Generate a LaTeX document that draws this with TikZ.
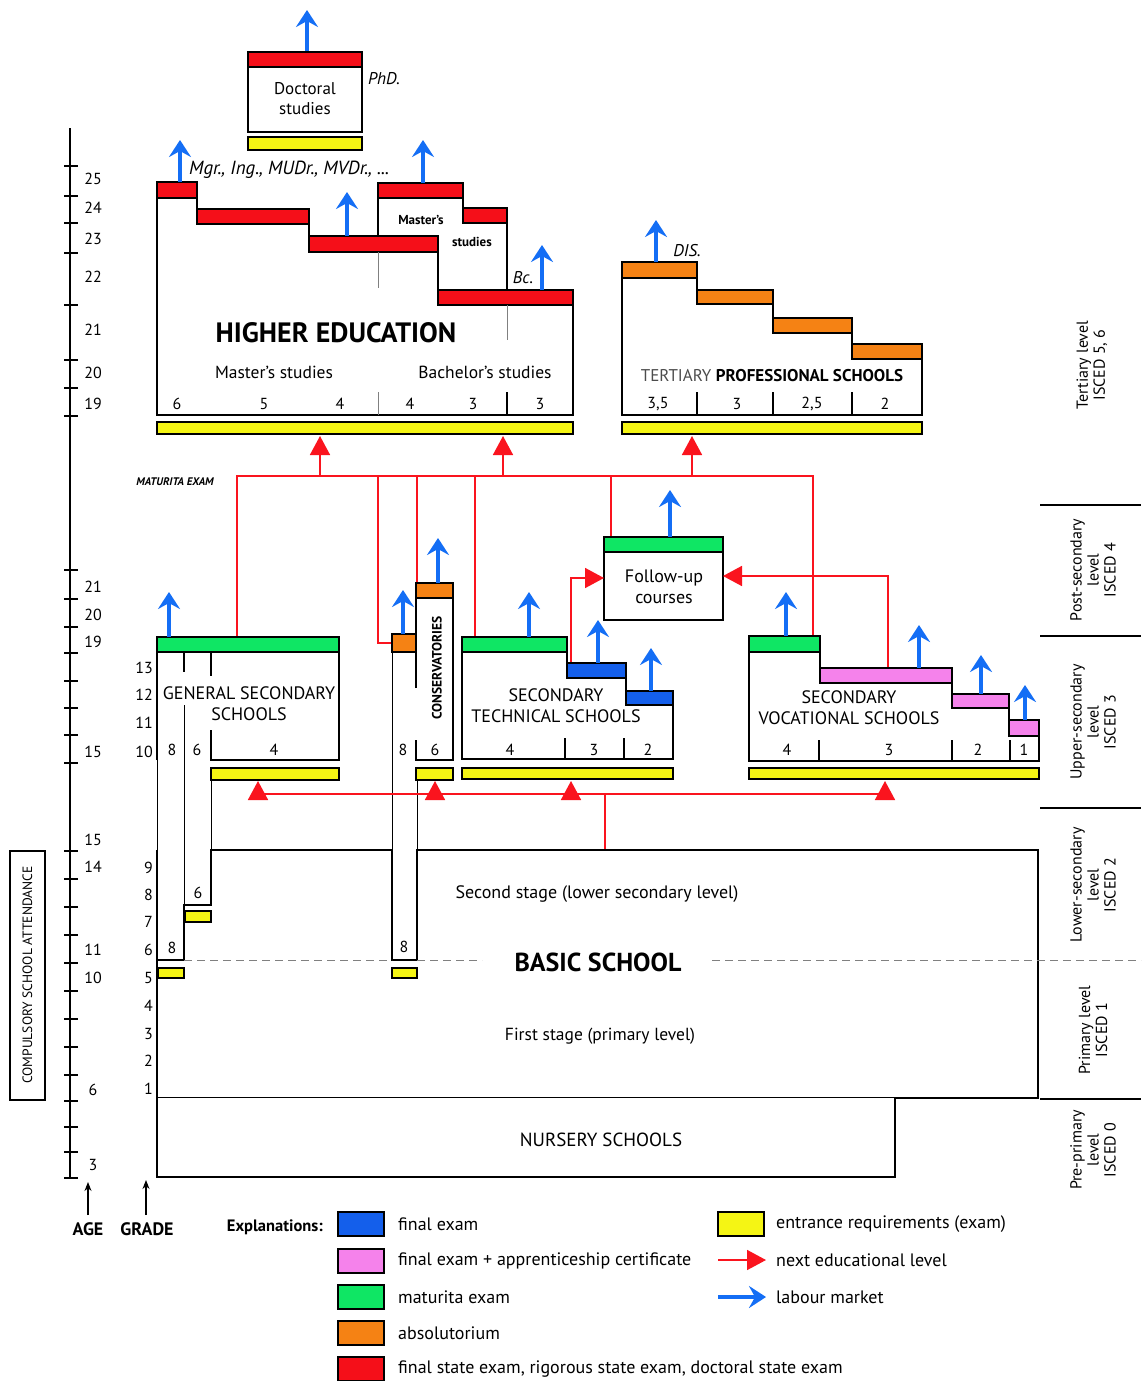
\documentclass[tikz,border=0pt]{standalone}
\usepackage{fontspec}
\setmainfont{PT Sans}
\usetikzlibrary{arrows.meta}

\definecolor{finalblue}{RGB}{20,95,235}
\definecolor{apprpink}{RGB}{245,130,235}
\definecolor{matgreen}{RGB}{15,230,100}
\definecolor{absorange}{RGB}{245,130,20}
\definecolor{statered}{RGB}{245,15,25}
\definecolor{entryellow}{RGB}{245,245,20}
\definecolor{nextred}{RGB}{250,20,30}
\definecolor{labourblue}{RGB}{20,110,245}

\tikzset{
  school/.style={draw, line width=2.6pt, fill=white, line join=miter},
  exambar/.style={draw, line width=2pt, fill=#1},
  wall/.style={line width=2pt},
  thinwall/.style={line width=1pt},
  divider/.style={line width=1.6pt},
  graydiv/.style={gray, line width=1pt},
  labour/.style={labourblue, line width=4pt, -{Stealth[length=17pt,width=22pt,inset=6pt]}},
  nextlevel/.style={nextred, line width=1.6pt},
  nexthead/.style={nextred, line width=1.6pt, -{Triangle[length=19pt,width=20pt]}},
  lbl/.style={inner sep=0pt, font=\fontsize{15}{15}\selectfont},
  yearnum/.style={lbl, font=\fontsize{16}{16}\selectfont},
  gradenum/.style={lbl, anchor=east},
  schoolname/.style={inner sep=0pt, align=center, font=\fontsize{18}{21}\selectfont},
  degree/.style={inner sep=0pt, font=\itshape\fontsize{17}{17}\selectfont},
  isced/.style={inner sep=0pt, align=center, rotate=90, font=\fontsize{16}{17}\selectfont},
  legendtext/.style={inner sep=0pt, anchor=west, font=\fontsize{18}{18}\selectfont},
}

\begin{document}
\begin{tikzpicture}[x=1pt, y=-1pt]
\useasboundingbox[fill=white] (0,0) rectangle (1141,1381);

% age axis
\draw[line width=2.5pt] (70,128) -- (70,1178);
\foreach \y in {166,196,223,253,305,360,388,416,570,599,627,653,681,708,735,763,851,879,907,935,963,991,1019,1047,1075,1101,1127,1152,1178}
  \draw[line width=2.5pt] (64,\y) -- (78,\y);
\foreach \a/\y [count=\i] in {25/179,24/208,23/239,22/277,21/330,20/373,19/404,21/587,20/615,19/642,15/752,15/840,14/867,11/950,10/978,6/1090,3/1165}
  \node[yearnum] (age\i) at (93,\y) {\a};
\foreach \g/\y [count=\i] in {13/668,12/695,11/723,10/752,9/868,8/895,7/922,6/950,5/978,4/1006,3/1034,2/1061,1/1089}
  \node[gradenum, font=\fontsize{16}{16}\selectfont] (grade\i) at (153,\y) {\g};
\coordinate (ageTail) at (88,1215);
\coordinate (ageTip) at (88,1182);
\coordinate (gradeTail) at (146,1215);
\coordinate (gradeTip) at (146,1180);
\draw[line width=1.2pt, -{Stealth[length=9pt,width=7pt]}] (ageTail) -- (ageTip);
\draw[line width=1.2pt, -{Stealth[length=9pt,width=7pt]}] (gradeTail) -- (gradeTip);
\node[lbl, font=\bfseries\fontsize{18}{18}\selectfont] (age) at (88,1229) {AGE};
\node[lbl, font=\bfseries\fontsize{18}{18}\selectfont] (grade) at (147,1229) {GRADE};

% compulsory attendance
\draw[line width=2pt] (10,851) rectangle (45,1100);
\node[lbl, rotate=90, font=\fontsize{13.5}{13.5}\selectfont] (compulsory) at (27.5,975) {COMPULSORY SCHOOL ATTENDANCE};

% ISCED column
\foreach \y in {505,636,808,1099}
  \draw[line width=1.5pt] (1040,\y) -- (1141,\y);
\node[isced] (isced56) at (1092,365) {Tertiary level\\ISCED 5, 6};
\node[isced] (isced4) at (1093,570) {Post-secondary\\level\\ISCED 4};
\node[isced] (isced3) at (1093,722) {Upper-secondary\\level\\ISCED 3};
\node[isced] (isced2) at (1093,885) {Lower-secondary\\level\\ISCED 2};
\node[isced] (isced1) at (1093,1030) {Primary level\\ISCED 1};
\node[isced] (isced0) at (1093,1150) {Pre-primary\\level\\ISCED 0};

% doctoral studies
\draw[labour] (307,52) -- (307,10);
\draw[school] (248,67) rectangle (362,132);
\draw[exambar=statered] (248,52) rectangle (362,67);
\draw[exambar=entryellow] (248,137) rectangle (362,150);
\node[schoolname, font=\fontsize{17}{20}\selectfont] (doctoral) at (305,99) {Doctoral\\studies};
\node[degree] (phd) at (384,79) {PhD.};

% higher education
\draw[school] (157,415) -- (157,198) -- (197,198) -- (197,224) -- (309,224) -- (309,252) -- (438,252) -- (438,305) -- (573,305) -- (573,415) -- cycle;
\fill[white] (378,198) rectangle (507,290);
\draw[school] (378,236) -- (378,198) -- (463,198) -- (463,223) -- (507,223) -- (507,290);
\draw[wall] (438,252) -- (438,290);
\draw[exambar=statered] (157,182) rectangle (197,198);
\draw[exambar=statered] (197,209) rectangle (309,224);
\draw[exambar=statered] (309,236) rectangle (438,252);
\draw[exambar=statered] (378,183) rectangle (463,198);
\draw[exambar=statered] (463,208) rectangle (507,223);
\draw[exambar=statered] (438,290) rectangle (573,305);
\draw[graydiv] (378,252) -- (378,288);
\draw[graydiv] (378,392) -- (378,415);
\draw[graydiv] (507,305) -- (507,340);
\draw[divider] (507,392) -- (507,415);
\draw[labour] (180,182) -- (180,140);
\draw[labour] (347,236) -- (347,192);
\draw[labour] (423,183) -- (423,140);
\draw[labour] (542,290) -- (542,245);
\node[degree, anchor=west, font=\itshape\fontsize{19}{19}\selectfont] (mgr) at (189,170) {Mgr., Ing., MUDr., MVDr., ...};
\node[degree] (bc) at (523,278) {Bc.};
\node[lbl, font=\bfseries\fontsize{13}{13}\selectfont] (masters) at (421,220) {Master's};
\node[lbl, font=\bfseries\fontsize{13}{13}\selectfont] (mstudies) at (472,242) {studies};
\node[lbl, font=\bfseries\fontsize{28}{28}\selectfont] (highered) at (336,333) {HIGHER EDUCATION};
\node[lbl, font=\fontsize{17.5}{17.5}\selectfont] (masterstudies) at (274,372) {Master's studies};
\node[lbl, font=\fontsize{17.5}{17.5}\selectfont] (bachelorstudies) at (485,372) {Bachelor's studies};
\foreach \n/\x [count=\i] in {6/177,5/264,4/340,4/410,3/473,3/540}
  \node[yearnum] (heyear\i) at (\x,404) {\n};
\draw[exambar=entryellow] (157,422) rectangle (573,434);

% tertiary professional schools
\draw[school] (622,278) -- (697,278) -- (697,304) -- (773,304) -- (773,333) -- (852,333) -- (852,359) -- (922,359) -- (922,415) -- (622,415) -- cycle;
\draw[exambar=absorange] (622,262) rectangle (697,278);
\draw[exambar=absorange] (697,290) rectangle (773,304);
\draw[exambar=absorange] (773,318) rectangle (852,333);
\draw[exambar=absorange] (852,344) rectangle (922,359);
\foreach \x in {697,773,852}
  \draw[divider] (\x,392) -- (\x,415);
\foreach \n/\x [count=\i] in {{3,5}/658,3/737,{2,5}/812,2/885}
  \node[yearnum] (tpyear\i) at (\x,404) {\n};
\node[lbl, font=\fontsize{17}{17}\selectfont] (tertiary) at (772,376) {\textcolor{black!70}{TERTIARY} \textbf{PROFESSIONAL SCHOOLS}};
\draw[labour] (656,262) -- (656,220);
\node[degree] (dis) at (687,251) {DIS.};
\draw[exambar=entryellow] (622,422) rectangle (922,434);

% maturita exam connections to tertiary level
\node[lbl, font=\bfseries\itshape\fontsize{11}{11}\selectfont] (maturita) at (175,482) {MATURITA EXAM};
\coordinate (gsTop) at (237,637);
\coordinate (vsTop) at (813,636);
\coordinate (conTop) at (417,583);
\coordinate (conSmall) at (392,643);
\coordinate (tsTop) at (475,637);
\coordinate (fuTop) at (611,537);
\draw[nextlevel] (gsTop) |- (vsTop |- 0,476) -- (vsTop);
\draw[nextlevel] (conSmall) -| (378,476);
\draw[nextlevel] (conTop) -- (conTop |- 0,476);
\draw[nextlevel] (tsTop) -- (tsTop |- 0,476);
\draw[nextlevel] (fuTop) -- (fuTop |- 0,476);
\foreach \x in {320,503,692}
  \draw[nexthead] (\x,476) -- (\x,436);

% follow-up courses
\draw[school] (604,552) rectangle (723,620);
\draw[exambar=matgreen] (604,537) rectangle (723,552);
\node[schoolname] (followup) at (664,587) {Follow-up\\courses};
\draw[labour] (670,537) -- (670,490);
\coordinate (tsStep) at (571,663);
\coordinate (vsStep) at (888,668);
\draw[nexthead] (tsStep) |- (604,578);
\draw[nexthead] (vsStep) |- (723,576);

% general secondary schools
\fill[white] (157,652) rectangle (339,760);
\draw[line width=2.6pt] (157,760) -- (157,652) -- (339,652) -- (339,760) -- (211,760) -- (211,730);
\draw[exambar=matgreen] (157,637) rectangle (339,652);
\draw[wall] (184,652) -- (184,672);
\draw[wall] (211,652) -- (211,676);
\draw[thinwall] (157,760) -- (157,850);
\draw[thinwall] (184,705) -- (184,905);
\draw[thinwall] (211,780) -- (211,850);
\node[schoolname] (general) at (249,704) {GENERAL SECONDARY\\SCHOOLS};
\node[yearnum] (gsyear1) at (172,750) {8};
\node[yearnum] (gsyear2) at (197,750) {6};
\node[yearnum] (gsyear3) at (274,750) {4};
\draw[exambar=entryellow] (211,768) rectangle (339,780);
\draw[labour] (169,637) -- (169,592);

% conservatories
\fill[white] (416,598) rectangle (453,760);
\draw[line width=2.6pt] (416,688) -- (416,598) -- (453,598) -- (453,760) -- (416,760) -- (416,740);
\draw[exambar=absorange] (416,583) rectangle (453,598);
\draw[exambar=absorange] (392,634) rectangle (416,652);
\draw[thinwall] (392,652) -- (392,850);
\draw[thinwall] (417,780) -- (417,850);
\node[lbl, rotate=90, font=\bfseries\fontsize{13.5}{13.5}\selectfont] (conservatories) at (437,668) {CONSERVATORIES};
\node[yearnum] (conyear1) at (403,750) {8};
\node[yearnum] (conyear2) at (435,750) {6};
\draw[exambar=entryellow] (416,768) rectangle (453,780);
\draw[labour] (403,634) -- (403,590);
\draw[labour] (438,583) -- (438,538);

% secondary technical schools
\draw[school] (462,652) -- (567,652) -- (567,678) -- (626,678) -- (626,705) -- (673,705) -- (673,759) -- (462,759) -- cycle;
\draw[exambar=matgreen] (462,637) rectangle (567,652);
\draw[exambar=finalblue] (567,663) rectangle (626,678);
\draw[exambar=finalblue] (626,691) rectangle (673,705);
\draw[divider] (565,738) -- (565,759);
\draw[divider] (624,738) -- (624,759);
\node[schoolname] (technical) at (556,706) {SECONDARY\\TECHNICAL SCHOOLS};
\foreach \n/\x [count=\i] in {4/510,3/594,2/648}
  \node[yearnum] (tsyear\i) at (\x,750) {\n};
\draw[exambar=entryellow] (462,768) rectangle (673,779);
\draw[labour] (529,637) -- (529,592);
\draw[labour] (598,663) -- (598,620);
\draw[labour] (651,691) -- (651,648);

% secondary vocational schools
\draw[school] (749,652) -- (820,652) -- (820,683) -- (952,683) -- (952,708) -- (1009,708) -- (1009,736) -- (1039,736) -- (1039,761) -- (749,761) -- cycle;
\draw[exambar=matgreen] (749,636) rectangle (820,652);
\draw[exambar=apprpink] (820,668) rectangle (952,683);
\draw[exambar=apprpink] (952,694) rectangle (1009,708);
\draw[exambar=apprpink] (1009,720) rectangle (1039,736);
\foreach \x in {819,952,1010}
  \draw[divider] (\x,740) -- (\x,761);
\node[schoolname] (vocational) at (849,708) {SECONDARY\\VOCATIONAL SCHOOLS};
\foreach \n/\x [count=\i] in {4/787,3/889,2/978,1/1024}
  \node[yearnum] (vsyear\i) at (\x,750) {\n};
\draw[exambar=entryellow] (749,768) rectangle (1039,779);
\draw[labour] (786,636) -- (786,592);
\draw[labour] (919,668) -- (919,625);
\draw[labour] (981,694) -- (981,655);
\draw[labour] (1025,720) -- (1025,685);

% basic school to upper secondary
\coordinate (bsTop) at (605,850);
\draw[nextlevel] (bsTop) -- (605,794);
\draw[nextlevel] (258,794) -- (885,794);
\foreach \x in {258,435,571,885}
  \draw[nexthead] (\x,794) -- (\x,781);

% basic school
\draw[school] (157,850) -- (157,1098) -- (1038,1098) -- (1038,850) -- (417,850) -- (417,960) -- (392,960) -- (392,850) -- (211,850) -- (211,905) -- (184,905) -- (184,960) -- (157,960);
\draw[gray, line width=1pt, dash pattern=on 8pt off 5pt] (184,960) -- (392,960);
\draw[gray, line width=1pt, dash pattern=on 8pt off 5pt] (417,960) -- (482,960);
\draw[gray, line width=1pt, dash pattern=on 8pt off 5pt] (712,960) -- (1141,960);
\node[yearnum] (bsyear1) at (172,948) {8};
\node[yearnum] (bsyear2) at (198,893) {6};
\node[yearnum] (bsyear3) at (404,947) {8};
\draw[exambar=entryellow] (158,968) rectangle (184,978);
\draw[exambar=entryellow] (185,911) rectangle (211,922);
\draw[exambar=entryellow] (392,968) rectangle (417,978);
\node[lbl, font=\fontsize{18}{18}\selectfont] (secondstage) at (597,894) {Second stage (lower secondary level)};
\node[lbl, font=\bfseries\fontsize{26}{26}\selectfont] (basic) at (598,962) {BASIC SCHOOL};
\node[lbl, font=\fontsize{17.5}{17.5}\selectfont] (firststage) at (600,1036) {First stage (primary level)};

% nursery schools
\draw[school] (157,1098) -- (157,1177) -- (895,1177) -- (895,1098);
\node[lbl, font=\fontsize{19}{19}\selectfont] (nursery) at (601,1140) {NURSERY SCHOOLS};

% explanations
\node[lbl, anchor=east, font=\bfseries\fontsize{16.5}{16.5}\selectfont] (explanations) at (323,1227) {Explanations:};
\foreach \c/\y/\t [count=\i] in {finalblue/1224/final exam, apprpink/1261/final exam + apprenticeship certificate, matgreen/1297/maturita exam, absorange/1333/absolutorium, statered/1369/{final state exam, rigorous state exam, doctoral state exam}}{
  \draw[exambar=\c] (338,\y-12) rectangle (384,\y+12);
  \node[legendtext] (legend\i) at (398,\y) {\t};
}
\draw[exambar=entryellow] (718,1212) rectangle (764,1236);
\node[legendtext] (legendyellow) at (776,1224) {entrance requirements (exam)};
\draw[nexthead] (718,1260) -- (766,1260);
\node[legendtext] (legendnext) at (776,1260) {next educational level};
\draw[labour] (718,1297) -- (766,1297);
\node[legendtext] (legendlabour) at (776,1297) {labour market};
\end{tikzpicture}
\end{document}
